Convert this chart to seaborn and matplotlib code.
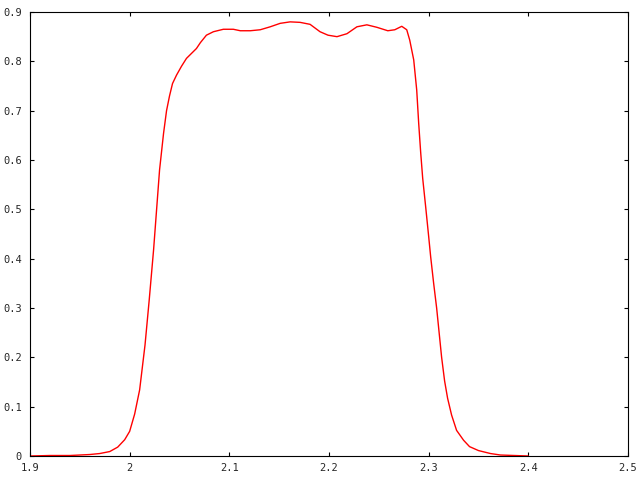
import seaborn as sns
import matplotlib.pyplot as plt
from matplotlib.ticker import FuncFormatter, MultipleLocator
import pandas as pd

# values
wavelength = [1.900, 1.920, 1.940, 1.960, 1.970, 1.980, 1.988, 1.995, 2.000, 2.005,
              2.010, 2.0154, 2.0196, 2.024, 2.027, 2.030, 2.034, 2.037, 2.040,
              2.043, 2.047, 2.052, 2.057, 2.063, 2.067, 2.071, 2.077, 2.084, 2.094,
              2.104, 2.111, 2.121, 2.131, 2.141, 2.151, 2.161, 2.171, 2.181, 2.191,
              2.199, 2.208, 2.218, 2.228, 2.238, 2.248, 2.259, 2.266, 2.273, 2.278,
              2.281, 2.285, 2.288, 2.290, 2.292, 2.294, 2.297, 2.300, 2.302, 2.305,
              2.308, 2.311, 2.313, 2.316, 2.319, 2.323, 2.328, 2.335, 2.341, 2.350,
              2.362, 2.372, 2.400]
transmission = [0.000, 0.001, 0.001, 0.003, 0.005, 0.009, 0.018, 0.033, 0.050, 0.085,
                0.134, 0.225, 0.316, 0.418, 0.499, 0.580, 0.654, 0.700, 0.730,
                0.755, 0.772, 0.790, 0.806, 0.818, 0.826, 0.838, 0.853, 0.860, 0.865,
                0.865, 0.862, 0.862, 0.864, 0.870, 0.877, 0.880, 0.879, 0.875, 0.860,
                0.853, 0.850, 0.856, 0.870, 0.874, 0.869, 0.862, 0.864, 0.871, 0.864,
                0.843, 0.803, 0.742, 0.674, 0.615, 0.563, 0.505, 0.445, 0.404, 0.350,
                0.300, 0.240, 0.200, 0.152, 0.117, 0.083, 0.052, 0.032, 0.019, 0.011,
                0.005, 0.002, 0.000]

df = pd.DataFrame({"x": wavelength, "y": transmission})

sns.set_style("ticks")
plt.rcParams["font.family"] = ["DejaVu Sans Mono"]

fig = plt.figure(figsize=(6.4, 4.8), dpi=100)
ax = fig.add_axes([30 / 640, 24 / 480, 598 / 640, 444 / 480])

sns.lineplot(data=df, x="x", y="y", color="red", linewidth=1, estimator=None, ax=ax)

ax.set_xlim(1.9, 2.5)
ax.set_ylim(0, 0.9)
ax.xaxis.set_major_locator(MultipleLocator(0.1))
ax.yaxis.set_major_locator(MultipleLocator(0.1))
fmt = FuncFormatter(lambda v, p: "%g" % round(v, 2))
ax.xaxis.set_major_formatter(fmt)
ax.yaxis.set_major_formatter(fmt)
ax.set_xlabel("")
ax.set_ylabel("")
ax.tick_params(direction="in", length=3, width=0.8, top=True, right=True,
               labelsize=7.5, color="black")
ax.tick_params(axis="y", pad=6)
ax.tick_params(axis="x", pad=5)
for s in ax.spines.values():
    s.set_visible(True)
    s.set_color("black")
    s.set_linewidth(0.8)

plt.savefig("out.png", dpi=100)
plt.close()
